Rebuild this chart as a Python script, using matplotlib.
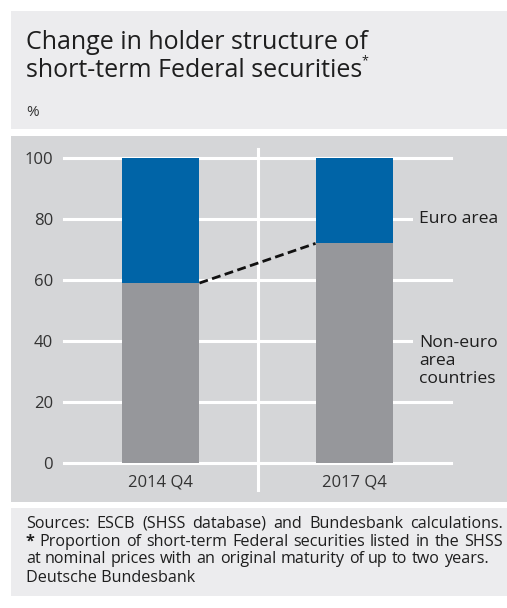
import matplotlib
matplotlib.use('Agg')
import matplotlib.pyplot as plt
from matplotlib.patches import Rectangle

plt.rcParams['font.family'] = ['Open Sans', 'DejaVu Sans']

# data
periods = ['2014 Q4', '2017 Q4']
non_euro = [59, 72]
euro_area = [41, 28]
y_ticks = [0, 20, 40, 60, 80, 100]

W, H = 507, 608
BLUE = '#0064a7'
GREY = '#96979b'
PANEL = '#d5d6d8'
LIGHT = '#ececee'
TEXT = '#1e1e1e'

fig = plt.figure(figsize=(W / 100, H / 100), dpi=100)
r = fig.canvas.get_renderer()


def px(x, y):
    """pixel coords (from top left) to figure fraction"""
    return x / W, 1 - y / H


# background panels
for top, bottom, col in [(11, 129, LIGHT), (136, 502, PANEL), (508, 596, LIGHT)]:
    fig.patches.append(Rectangle((11 / W, 1 - bottom / H), (W - 11) / W,
                                 (bottom - top) / H, transform=fig.transFigure,
                                 facecolor=col, edgecolor='none', zorder=-5))

# title
fig.text(*px(26, 49), 'Change in holder structure of', fontsize=18,
         color=TEXT, va='baseline')
t2 = fig.text(*px(26, 77), 'short-term Federal securities', fontsize=18,
              color=TEXT, va='baseline')
bb = t2.get_window_extent(r)
fig.text(bb.x1 / W - 1 / W, 1 - 61 / H, '*', fontsize=9, color=TEXT,
         va='center')
fig.text(*px(26, 113), '%', fontsize=11, color='#333333', va='center')

# main axes
l, b = px(64, 463)
rgt, tp = px(451, 158)
ax = fig.add_axes([l, b, rgt - l, tp - b])
ax.set_facecolor('none')
for s in ax.spines.values():
    s.set_visible(False)
ax.set_xlim(-0.5, 1.5)
ax.set_ylim(0, 100)

x = range(len(periods))
for yv in y_ticks:
    ax.axhline(yv, color='white', lw=2.2, zorder=1, clip_on=False)
ax.axvline(0.5, ymin=-0.09, ymax=1.03, color='white', lw=2.2, zorder=1,
           clip_on=False)

ax.bar(x, non_euro, width=0.4, color=GREY, zorder=2)
ax.bar(x, euro_area, bottom=non_euro, width=0.4, color=BLUE, zorder=2)
ax.plot([0.2, 0.8], non_euro, color='#111111', lw=2, ls=(0, (3.2, 1.6)),
        zorder=3)

ax.set_yticks(y_ticks)
ax.set_yticklabels([str(v) for v in y_ticks], fontsize=12, color='#333333')
ax.set_xticks(list(x))
ax.set_xticklabels(periods, fontsize=12, color='#333333')
ax.tick_params(length=0)
ax.tick_params(axis='y', pad=8)
ax.tick_params(axis='x', pad=8)

lab = dict(fontsize=12.6, color=TEXT, va='center', ha='left',
           transform=ax.transAxes, linespacing=1.15,
           bbox=dict(facecolor=PANEL, edgecolor='none', pad=4))
ax.text((419 - 64) / 387, 0.80, 'Euro area', **lab)
ax.text((419 - 64) / 387, 0.335, 'Non-euro\narea\ncountries', **lab)

FS = 11.6


def justified(words_list, y, x0, x1, bold_first=False, justify=True):
    """place words on one line spread evenly from x0 to x1 (pixels)"""
    texts = []
    for i, w in enumerate(words_list):
        wt = 'bold' if (bold_first and i == 0) else 'normal'
        texts.append(fig.text(0, 1 - y / H, w, fontsize=FS, color=TEXT,
                              va='baseline', fontweight=wt))
    widths = [t.get_window_extent(r).width for t in texts]
    if justify and len(words_list) > 1:
        gap = (x1 - x0 - sum(widths)) / (len(words_list) - 1)
    else:
        a = fig.text(0, 0, 'a b', fontsize=FS)
        c = fig.text(0, 0, 'ab', fontsize=FS)
        gap = a.get_window_extent(r).width - c.get_window_extent(r).width
        a.remove()
        c.remove()
    pos = x0
    for t, wd in zip(texts, widths):
        t.set_x(pos / W)
        pos += wd + gap


justified('Sources: ESCB (SHSS database) and Bundesbank calculations.'.split(),
          528, 26, 503)
justified(['*'] + 'Proportion of short-term Federal securities listed in the SHSS'
          .split(), 546, 26, 503, bold_first=True)
justified('at nominal prices with an original maturity of up to two years.'
          .split(), 563, 26, 503, justify=False)
fig.text(*px(26, 582), 'Deutsche Bundesbank', fontsize=FS, color=TEXT,
         va='baseline')

fig.savefig('out.png', dpi=100, facecolor='white')
